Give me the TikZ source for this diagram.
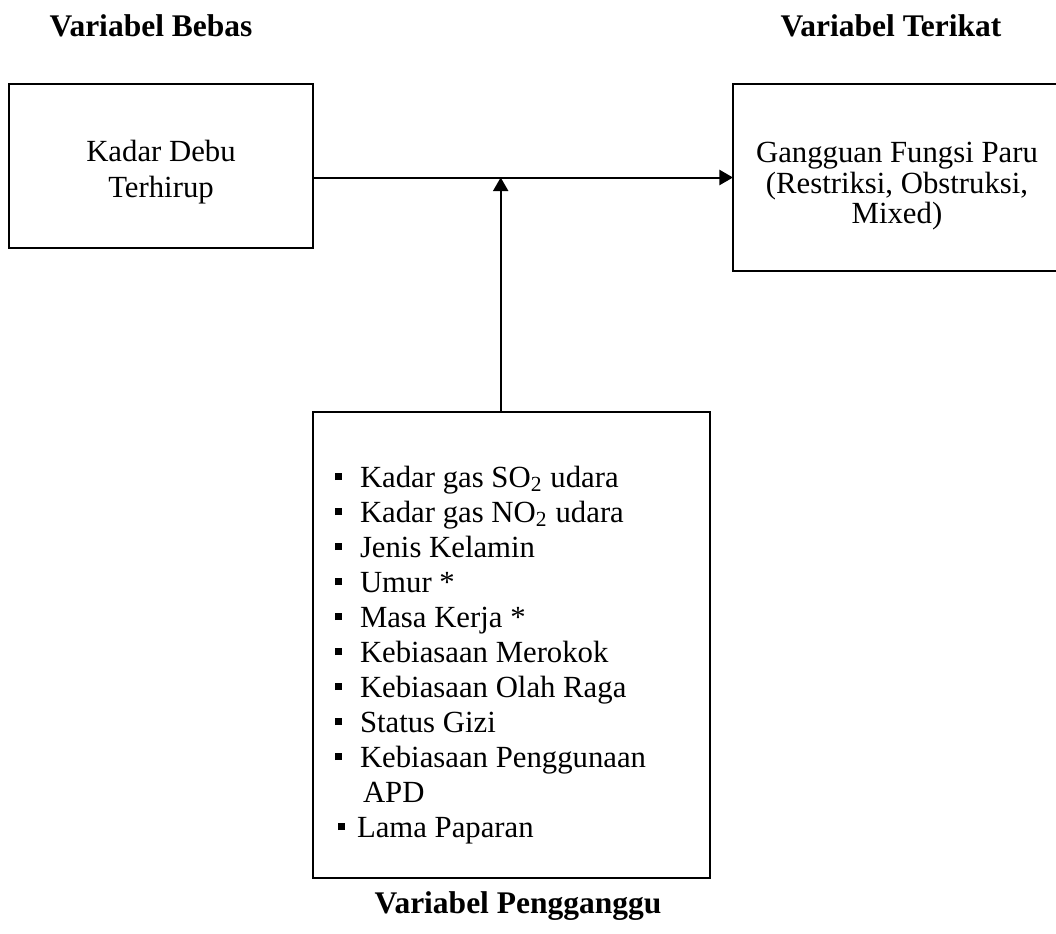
\documentclass[tikz,border=0pt]{standalone}
\usepackage{fontspec}
\setmainfont{Liberation Serif}
\usetikzlibrary{arrows.meta}
\newcommand\bulsq[1][2.7pt]{\raisebox{2.8pt}{\rule{#1}{#1}}}
\begin{document}
\begin{tikzpicture}[x=0.4pt,y=-0.4pt,
  box/.style={draw,line width=0.8pt,inner sep=0pt,outer sep=0pt},
  txt/.style={inner sep=0pt,outer sep=0pt,font=\fontsize{12.3}{14}\selectfont},
  ttl/.style={inner sep=0pt,outer sep=0pt,font=\fontsize{12.6}{14}\selectfont\bfseries,anchor=base},
  conn/.style={line width=0.8pt},
  tip/.style={-{Triangle[width=6pt,length=5.4pt]}}]
\useasboundingbox (0,0) rectangle (1056,934);
\clip (0,0) rectangle (1056,934);
\fill[white] (0,0) rectangle (1056,934);
% titles
\node[ttl] (tbebas) at (151,36) {Variabel Bebas};
\node[ttl] (tterikat) at (891,36) {Variabel Terikat};
\node[ttl] (tpeng) at (518,913) {Variabel Pengganggu};
% boxes
\node[box,minimum width=121.6pt,minimum height=65.6pt] (L) at (161,166) {};
\node[box,minimum width=132.8pt,minimum height=74.8pt] (R) at (899,177.5) {};
\node[box,minimum width=158.8pt,minimum height=186.4pt] (B) at (511.5,645) {};
% box texts
\node[txt,anchor=base] (l1) at (161,161) {Kadar Debu};
\node[txt,anchor=base] (l2) at (161,197) {Terhirup};
\node[txt,anchor=base] (r1) at (897,162) {Gangguan Fungsi Paru};
\node[txt,anchor=base] (r2) at (897,193) {(Restriksi, Obstruksi,};
\node[txt,anchor=base] (r3) at (897,223) {Mixed)};
% list
\node[txt,anchor=base west] (b1) at (360,487) {\llap{\bulsq\hspace{7.2pt}}Kadar gas SO\textsubscript{2} udara};
\node[txt,anchor=base west] (b2) at (360,522) {\llap{\bulsq\hspace{7.2pt}}Kadar gas NO\textsubscript{2} udara};
\node[txt,anchor=base west] (b3) at (360,557) {\llap{\bulsq\hspace{7.2pt}}Jenis Kelamin};
\node[txt,anchor=base west] (b4) at (360,592) {\llap{\bulsq\hspace{7.2pt}}Umur *};
\node[txt,anchor=base west] (b5) at (360,627) {\llap{\bulsq\hspace{7.2pt}}Masa Kerja *};
\node[txt,anchor=base west] (b6) at (360,662) {\llap{\bulsq\hspace{7.2pt}}Kebiasaan Merokok};
\node[txt,anchor=base west] (b7) at (360,697) {\llap{\bulsq\hspace{7.2pt}}Kebiasaan Olah Raga};
\node[txt,anchor=base west] (b8) at (360,732) {\llap{\bulsq\hspace{7.2pt}}Status Gizi};
\node[txt,anchor=base west] (b9) at (360,767) {\llap{\bulsq\hspace{7.2pt}}Kebiasaan Penggunaan};
\node[txt,anchor=base west] (b10) at (363,802) {APD};
\node[txt,anchor=base west] (b11) at (357,837) {\llap{\bulsq[3pt]\hspace{4.8pt}}Lama Paparan};
% connectors
\coordinate (vt) at (500.7,177.5);
\draw[conn,tip] (L.east |- R.west) -- (R.west);
\draw[conn,tip] (vt |- B.north) -- (vt);
\end{tikzpicture}
\end{document}
